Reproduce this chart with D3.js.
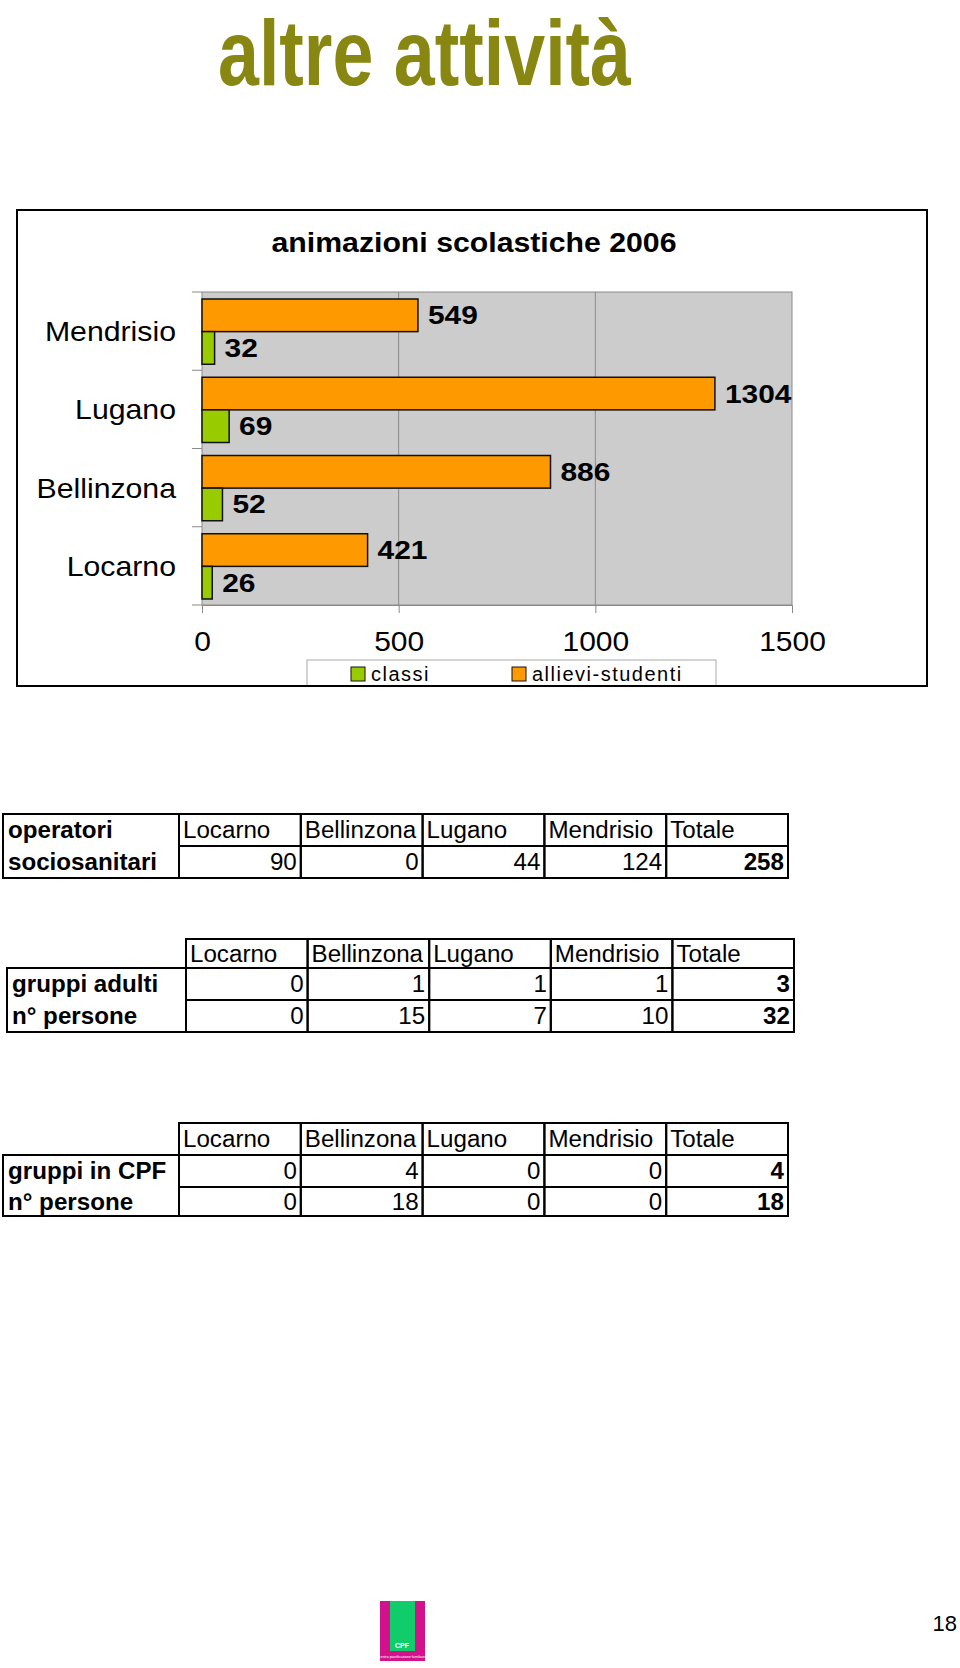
<!DOCTYPE html>
<html><head><meta charset="utf-8">
<script src="https://cdn.jsdelivr.net/npm/d3@7"></script>
<style>
html,body{margin:0;padding:0;background:#fff;}
svg text{font-family:"Liberation Sans",Arial,Helvetica,sans-serif;}
</style></head>
<body>
<script>
// ---- data ----
const cities = ["Mendrisio","Lugano","Bellinzona","Locarno"];
const classi = [32,69,52,26];
const allievi = [549,1304,886,421];
const xTicks = [0,500,1000,1500];
const seriesNames = ["allievi-studenti","classi"];
const legendNames = ["classi","allievi-studenti"];

const tableCols = ["Locarno","Bellinzona","Lugano","Mendrisio","Totale"];
const operatori = [90,0,44,124,258];
const gruppiAdulti = [0,1,1,1,3];
const personeAdulti = [0,15,7,10,32];
const gruppiCPF = [0,4,0,0,4];
const personeCPF = [0,18,0,0,18];

const W=960,H=1668;
const svg=d3.select("body").append("svg").attr("width",W).attr("height",H);
svg.append("rect").attr("width",W).attr("height",H).attr("fill","#fff");

function stretch(sel,k){
  sel.each(function(){
    const L=this.getComputedTextLength();
    if(L>0){this.setAttribute("textLength",(L*k).toFixed(1));this.setAttribute("lengthAdjust","spacingAndGlyphs");}
  });
}

// page title
svg.append("text").attr("x",218).attr("y",85).attr("font-size",93).attr("font-weight","bold")
  .attr("fill","#878712").attr("textLength",413).attr("lengthAdjust","spacingAndGlyphs")
  .text("altre attività");

// chart frame
svg.append("rect").attr("x",17).attr("y",210).attr("width",910).attr("height",476)
  .attr("fill","#fff").attr("stroke","#000").attr("stroke-width",2);
svg.append("text").attr("x",474).attr("y",252).attr("text-anchor","middle")
  .attr("font-size",27).attr("font-weight","bold").attr("textLength",405).attr("lengthAdjust","spacingAndGlyphs")
  .text("animazioni scolastiche 2006");

const x=d3.scaleLinear().domain([0,1500]).range([202,792]);
const y=d3.scaleBand().domain(cities).range([292,605]);
const ys=d3.scaleBand().domain(seriesNames).range([7,y.bandwidth()-6]);
const colors={"classi":"#99cc00","allievi-studenti":"#ff9900"};

svg.append("rect").attr("x",x(0)).attr("y",292).attr("width",x(1500)-x(0)).attr("height",605-292)
  .attr("fill","#cccccc").attr("stroke","#8a8a8a").attr("stroke-width",1);
// gridlines
svg.selectAll(".grid").data(xTicks.slice(1,3)).join("line")
  .attr("x1",d=>x(d)).attr("x2",d=>x(d)).attr("y1",292).attr("y2",605)
  .attr("stroke","#8a8a8a").attr("stroke-width",1);

// x axis
const xAxis=svg.append("g").attr("transform","translate(0,605)")
  .call(d3.axisBottom(x).tickValues(xTicks).tickFormat(d3.format("d")).tickSize(8).tickPadding(18));
xAxis.select(".domain").attr("stroke","#8a8a8a");
xAxis.selectAll(".tick line").attr("stroke","#8a8a8a");
xAxis.selectAll(".tick text").attr("font-size",28).attr("fill","#000")
  .attr("font-family","Liberation Sans,Arial,sans-serif").call(stretch,1.07);

// y axis ticks at band boundaries
const yBounds=cities.map(c=>y(c)).concat([605]);
svg.selectAll(".ytick").data(yBounds).join("line")
  .attr("x1",192).attr("x2",202).attr("y1",d=>d).attr("y2",d=>d)
  .attr("stroke","#8a8a8a").attr("stroke-width",1);
svg.selectAll(".ylab").data(cities).join("text")
  .attr("x",176).attr("y",d=>y(d)+y.bandwidth()/2+10).attr("text-anchor","end")
  .attr("font-size",28).text(d=>d).call(stretch,1.08);

// bars
const rows=[];
cities.forEach((c,i)=>{rows.push({c,s:"allievi-studenti",v:allievi[i]});rows.push({c,s:"classi",v:classi[i]});});
svg.selectAll(".bar").data(rows).join("rect")
  .attr("x",x(0)).attr("y",d=>y(d.c)+ys(d.s)).attr("width",d=>x(d.v)-x(0)).attr("height",ys.bandwidth())
  .attr("fill",d=>colors[d.s]).attr("stroke","#111").attr("stroke-width",1.5);
svg.selectAll(".vlab").data(rows).join("text")
  .attr("x",d=>x(d.v)+10).attr("y",d=>y(d.c)+ys(d.s)+ys.bandwidth()/2+9)
  .attr("font-size",26).attr("font-weight","bold").text(d=>d.v).call(stretch,1.15);

// legend
svg.append("rect").attr("x",307).attr("y",660).attr("width",409).attr("height",26)
  .attr("fill","#fff").attr("stroke","#aaaaaa").attr("stroke-width",1);
const lx=[351,512];
legendNames.forEach((n,i)=>{
  svg.append("rect").attr("x",lx[i]).attr("y",667).attr("width",14).attr("height",14)
    .attr("fill",colors[n]).attr("stroke","#111").attr("stroke-width",1);
  svg.append("text").attr("x",lx[i]+20).attr("y",681).attr("font-size",20)
    .attr("letter-spacing",1.5).text(n);
});
// redraw frame bottom border over legend
svg.append("line").attr("x1",17).attr("x2",927).attr("y1",686).attr("y2",686).attr("stroke","#000").attr("stroke-width",2);

// ---- tables ----
const FS=23, TK=1.05;
function drawTable(opt){
  const g=svg.append("g");
  const cx=d3.scaleBand().domain(tableCols).range([opt.c0,opt.c1]);
  const r=opt.rows;
  tableCols.forEach(c=>{
    g.append("rect").attr("x",cx(c)).attr("y",r[0]).attr("width",cx.bandwidth()).attr("height",r[1]-r[0])
      .attr("fill","none").attr("stroke","#000").attr("stroke-width",2);
    g.append("text").attr("x",cx(c)+4).attr("y",(r[0]+r[1])/2+8).attr("font-size",FS).text(c).call(stretch,TK);
  });
  opt.data.forEach((vals,k)=>{
    const y0=r[k+1],y1=r[k+2];
    tableCols.forEach((c,j)=>{
      g.append("rect").attr("x",cx(c)).attr("y",y0).attr("width",cx.bandwidth()).attr("height",y1-y0)
        .attr("fill","none").attr("stroke","#000").attr("stroke-width",2);
      g.append("text").attr("x",cx(c)+cx.bandwidth()-4).attr("y",(y0+y1)/2+8).attr("text-anchor","end")
        .attr("font-size",FS).attr("font-weight",j===4?"bold":"normal").text(vals[j]).call(stretch,TK);
    });
  });
  const ly0=opt.labelTop, ly1=r[r.length-1];
  g.append("rect").attr("x",opt.lx).attr("y",ly0).attr("width",opt.c0-opt.lx).attr("height",ly1-ly0)
    .attr("fill","none").attr("stroke","#000").attr("stroke-width",2);
  opt.labels.forEach((t,k)=>{
    g.append("text").attr("x",opt.lx+5).attr("y",opt.labelY[k]).attr("font-size",FS).attr("font-weight","bold").text(t).call(stretch,TK);
  });
}

// table 1 (label block spans header and value rows)
(function(){
  const g=svg.append("g");
  const cx=d3.scaleBand().domain(tableCols).range([179,788]);
  const r=[814,846,878];
  tableCols.forEach((c,j)=>{
    g.append("rect").attr("x",cx(c)).attr("y",r[0]).attr("width",cx.bandwidth()).attr("height",r[1]-r[0])
      .attr("fill","none").attr("stroke","#000").attr("stroke-width",2);
    g.append("text").attr("x",cx(c)+4).attr("y",r[0]+24).attr("font-size",FS).text(c).call(stretch,TK);
    g.append("rect").attr("x",cx(c)).attr("y",r[1]).attr("width",cx.bandwidth()).attr("height",r[2]-r[1])
      .attr("fill","none").attr("stroke","#000").attr("stroke-width",2);
    g.append("text").attr("x",cx(c)+cx.bandwidth()-4).attr("y",r[1]+24).attr("text-anchor","end")
      .attr("font-size",FS).attr("font-weight",j===4?"bold":"normal").text(operatori[j]).call(stretch,TK);
  });
  g.append("rect").attr("x",3).attr("y",r[0]).attr("width",179-3).attr("height",r[2]-r[0])
    .attr("fill","none").attr("stroke","#000").attr("stroke-width",2);
  g.append("text").attr("x",8).attr("y",r[0]+24).attr("font-size",FS).attr("font-weight","bold").text("operatori").call(stretch,TK);
  g.append("text").attr("x",8).attr("y",r[1]+24).attr("font-size",FS).attr("font-weight","bold").text("sociosanitari").call(stretch,TK);
})();

drawTable({c0:186,c1:794,rows:[939,968,1000,1032],data:[gruppiAdulti,personeAdulti],
  lx:7,labelTop:968,labels:["gruppi adulti","n° persone"],labelY:[992,1024]});
drawTable({c0:179,c1:788,rows:[1123,1155,1187,1216],data:[gruppiCPF,personeCPF],
  lx:3,labelTop:1155,labels:["gruppi in CPF","n° persone"],labelY:[1179,1210]});

// footer: logo and page number
const logo=svg.append("g");
logo.append("rect").attr("x",380).attr("y",1601).attr("width",45).attr("height",60).attr("fill","#d4118c");
logo.append("rect").attr("x",390).attr("y",1601).attr("width",25).attr("height",50).attr("fill","#10cc6a");
logo.append("text").attr("x",402).attr("y",1648).attr("text-anchor","middle").attr("font-size",7)
  .attr("font-weight","bold").attr("fill","#fff").text("CPF");
logo.append("text").attr("x",402).attr("y",1658).attr("text-anchor","middle").attr("font-size",3.5)
  .attr("fill","#fff").text("centro pianificazione familiare");
svg.append("text").attr("x",957).attr("y",1631).attr("text-anchor","end").attr("font-size",22).text("18");
</script>
</body></html>
